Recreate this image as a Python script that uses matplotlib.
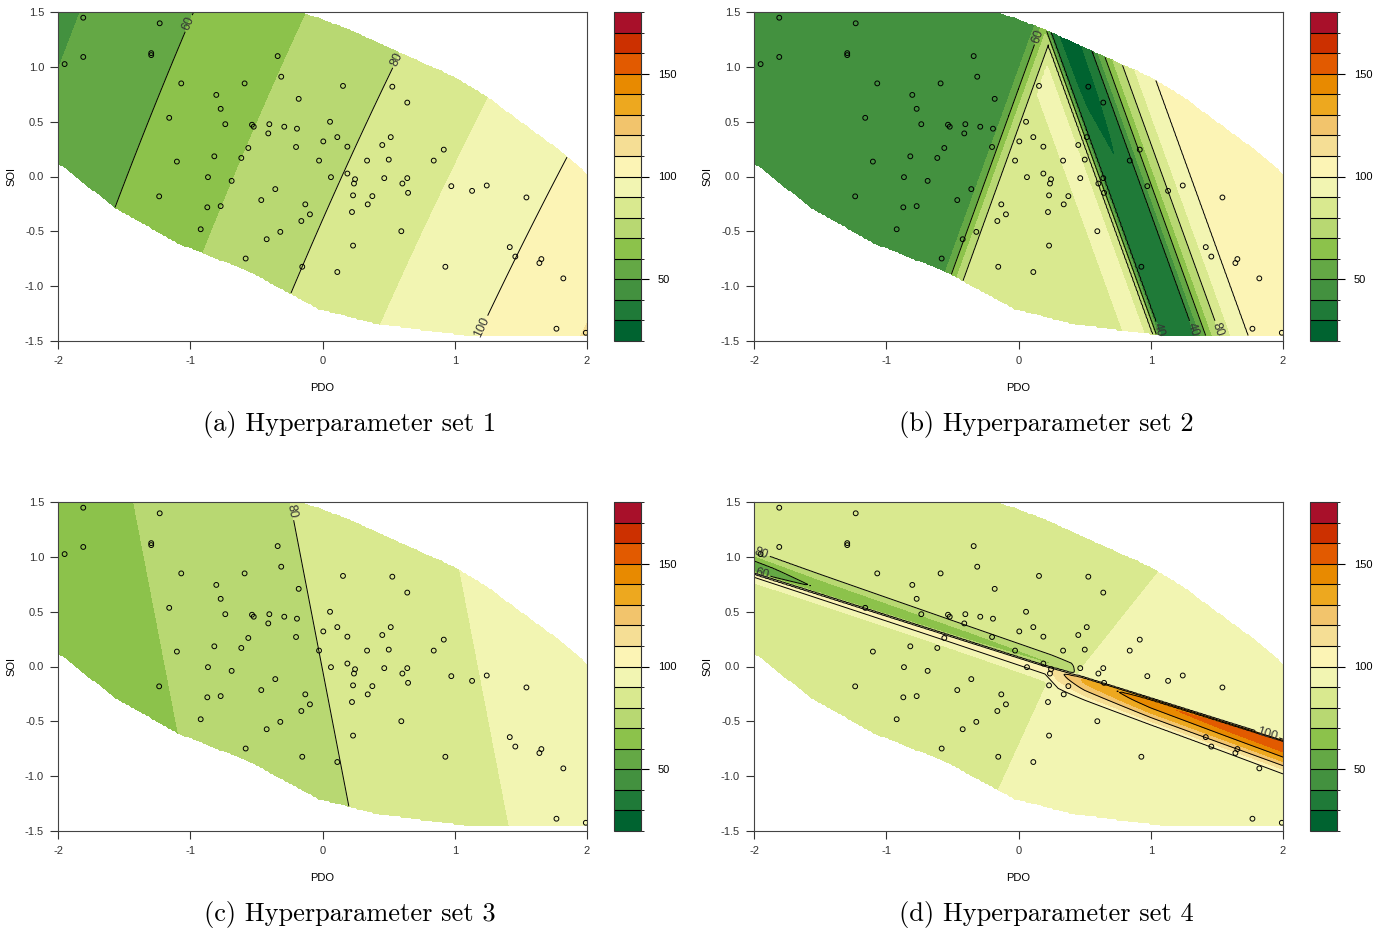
import numpy as np
import matplotlib
matplotlib.use('Agg')
import matplotlib.pyplot as plt
from matplotlib.colors import ListedColormap, BoundaryNorm
from matplotlib.path import Path
from matplotlib.cm import ScalarMappable

plt.rcParams['font.family'] = ['Liberation Sans', 'DejaVu Sans']
plt.rcParams['axes.unicode_minus'] = False

#~~~~~~~~~~~~~~~~~~~~~~~~~~~~~~~ data ~~~~~~~~~~~~~~~~~~~~~~~~~~~~~~~
# observed (PDO, SOI) pairs
pdo = [-1.809, -1.231, -1.809, -1.950, -1.295, -1.295, -0.339, -0.312, -1.068, -0.589,
       -0.803, -0.180, -0.770, -1.159, -0.735, -0.533, -0.520, -0.402, -0.289, -0.193,
       -0.410, 0.006, -0.561, -0.200, -0.818, -0.614, -1.101, -0.026, -0.866, -0.687,
       0.155, 0.528, 0.641, 0.057, 0.112, 0.188, 0.516, 0.452, 0.917, 0.501,
       0.337, 0.841, 0.064, 0.188, 0.246, 0.238, 0.467, 0.641, 0.604, 0.647,
       0.231, 0.377, 0.342, 0.223, 0.596, 0.231, 0.112, 0.974, 1.131, 1.242,
       1.542, 1.416, 1.458, 1.655, 1.640, 0.929, 1.821, 1.769, 1.991, -1.235,
       -0.871, -0.770, -0.921, -0.463, -0.357, -0.130, -0.095, -0.160, -0.319, -0.422,
       -0.581, -0.153]
soi = [1.448, 1.397, 1.090, 1.025, 1.125, 1.107, 1.098, 0.910, 0.849, 0.849,
       0.744, 0.708, 0.617, 0.535, 0.477, 0.472, 0.454, 0.477, 0.454, 0.436,
       0.393, 0.320, 0.260, 0.269, 0.184, 0.169, 0.136, 0.145, -0.006, -0.040,
       0.826, 0.819, 0.674, 0.499, 0.359, 0.272, 0.359, 0.287, 0.245, 0.154,
       0.145, 0.145, -0.006, 0.027, -0.025, -0.064, -0.015, -0.015, -0.064, -0.149,
       -0.172, -0.179, -0.254, -0.324, -0.499, -0.630, -0.871, -0.088, -0.131, -0.082,
       -0.191, -0.644, -0.730, -0.753, -0.789, -0.823, -0.929, -1.388, -1.425, -0.181,
       -0.281, -0.270, -0.481, -0.215, -0.115, -0.254, -0.345, -0.406, -0.505, -0.572,
       -0.748, -0.823]

# outline of the area where predictions are shown
hull_pdo = [-2.01, -1.564, -1.1, -0.556, -0.026, 0.427, 1.108, 2.01, 2.01, 1.827,
            1.486, 1.234, 0.982, 0.528, 0.225, -0.026, -0.2, -2.01]
hull_soi = [0.133, -0.29, -0.608, -0.867, -1.213, -1.35, -1.456, -1.462, 0.012, 0.209,
            0.511, 0.738, 0.919, 1.162, 1.328, 1.448, 1.51, 1.51]

# colour classes from 20 to 180 in steps of 10 (low -> high)
levels = np.arange(20, 181, 10)
line_levels = np.arange(20, 181, 20)
class_colors = ['#006330', '#1f7a38', '#43913f', '#64a845', '#8cc24b', '#b8d872',
                '#d9e98f', '#f2f5b2', '#fcf4b5', '#f5de95', '#f2c46c', '#eda81f',
                '#e88a00', '#e25a00', '#cc3000', '#a8102a']

# set 1 and set 3: plane with a small twist  f = c0 + cx*x + cy*y + cxy*x*y
plane_1 = [78.2, 12.3, -4.55, -0.42]
plane_3 = [80.04, 8.45, 1.352, 0.0]

# set 2: two crossing ramps, u_left = x - 0.3y, u_right = x + 0.3y
slope_2 = 0.3
left_knots = [-0.34, -0.29, -0.24, -0.19, -0.135, -0.09, -0.06]
left_vals = [45, 50, 60, 70, 80, 86, 200]
right_knots = [-1.0, 0.30, 0.40, 0.50, 0.56, 0.585, 0.61, 0.64, 0.70, 0.78,
               0.86, 0.90, 0.94, 0.98, 1.03, 1.09, 1.17, 1.30, 1.45]
right_vals = [85, 86, 92, 92, 86, 80, 60, 40, 35, 32,
              35, 40, 50, 60, 70, 80, 90, 100, 106]
# the valley gets deeper towards the top
valley_knots = [0.64, 0.70, 0.80, 0.88]
valley_shape = [0, 1, 1, 0]
valley_soi = [-1.5, 0.0, 0.8, 1.5]
valley_extra = [0, 1, 6, 8]

# set 4: sloping background split by a narrow ridge along soi = 0.08 - 0.385*pdo
ridge_line = [0.08, -0.385]
base_above = [90, 2.5, -0.66, -0.49]   # f = b0 + k*(x + a*y + c)
base_below = [90, 2.5, -0.38, -0.276]
dip_v = [-0.01, 0.01, 0.05, 0.10, 0.15, 0.19, 0.22]
dip_shape = [0, 0.8, 1.0, 0.85, 0.45, 0.1, 0]
dip_x = [-2.0, -1.5, -0.5, 0.25, 0.40, 0.46]
dip_depth = [28, 23, 21, 20, 16, 0]
dip_wx = [-2.0, 0.4]
dip_width = [1.05, 0.8]
peak_v = [-0.32, -0.27, -0.20, -0.12, -0.06, -0.02, 0.005, 0.02, 0.035]
peak_shape = [0, 0.12, 0.45, 0.75, 0.93, 1.0, 0.85, 0.15, 0]
peak_x = [-2.0, -0.5, 0.2, 0.3, 0.5, 1.0, 2.0]
peak_height = [20, 18, 18, 27, 42, 56, 65]
width_x = [-2.0, 0.2, 0.3, 2.0]
width_scale = [0.38, 0.42, 0.75, 1.0]

# contour label spots
labels_1 = [(-1.055, 1.418), (0.548, 1.073), (1.184, -1.358)]
labels_2 = [(0.163, 1.272), (1.071, -1.395), (1.313, -1.395), (1.502, -1.395)]
labels_3 = [(-0.253, 1.409)]
labels_4 = [(-1.94, 1.045), (-1.94, 0.847), (1.88, -0.62)]

captions = ['(a) Hyperparameter set 1', '(b) Hyperparameter set 2',
            '(c) Hyperparameter set 3', '(d) Hyperparameter set 4']


#~~~~~~~~~~~~~~~~~~~~~~~~~~~~~~~ fields ~~~~~~~~~~~~~~~~~~~~~~~~~~~~~~~
gx = np.linspace(-2, 2, 321)
gy = np.linspace(-1.5, 1.5, 241)
X, Y = np.meshgrid(gx, gy)
hull = Path(np.column_stack([hull_pdo, hull_soi]))
inside = hull.contains_points(np.column_stack([X.ravel(), Y.ravel()])).reshape(X.shape)


def plane_field(p):
    return p[0] + p[1] * X + p[2] * Y + p[3] * X * Y


def ramps_field():
    u_left = X - slope_2 * Y
    u_right = X + slope_2 * Y
    right = np.interp(u_right, right_knots, right_vals)
    right = right - np.interp(Y, valley_soi, valley_extra) * np.interp(u_right, valley_knots, valley_shape)
    return np.minimum(np.interp(u_left, left_knots, left_vals), right)


def ridge_field():
    v = Y - (ridge_line[0] + ridge_line[1] * X)
    above = base_above[0] + base_above[1] * (X + base_above[2] * Y + base_above[3])
    below = base_below[0] + base_below[1] * (X + base_below[2] * Y + base_below[3])
    f = np.where(v > 0, above, below)
    wd = np.interp(X, dip_wx, dip_width)
    f = f - np.interp(X, dip_x, dip_depth) * np.interp(v / wd, dip_v, dip_shape, left=0, right=0)
    w = np.interp(X, width_x, width_scale)
    f = f + np.interp(X, peak_x, peak_height) * np.interp(v / w, peak_v, peak_shape, left=0, right=0)
    return f


fields = [plane_field(plane_1), ramps_field(), plane_field(plane_3), ridge_field()]
label_spots = [labels_1, labels_2, labels_3, labels_4]

#~~~~~~~~~~~~~~~~~~~~~~~~~~~~~~~ figure ~~~~~~~~~~~~~~~~~~~~~~~~~~~~~~~
W, H = 1388, 934
fig = plt.figure(figsize=(W / 100, H / 100), dpi=100)


def box(x0, y0, x1, y1):
    return [x0 / W, 1 - y1 / H, (x1 - x0) / W, (y1 - y0) / H]


cmap = ListedColormap(class_colors)
cmap.set_under(class_colors[0])
cmap.set_over(class_colors[-1])
norm = BoundaryNorm(levels, cmap.N)

origins = [(0, 0), (696, 0), (0, 490), (696, 490)]
for i, (dx, dy) in enumerate(origins):
    ax = fig.add_axes(box(58 + dx, 12 + dy, 587 + dx, 341 + dy))
    cax = fig.add_axes(box(614 + dx, 12 + dy, 641 + dx, 341 + dy))

    z = np.ma.masked_where(~inside, np.clip(fields[i], 20.5, 179.5))
    ax.contourf(X, Y, z, levels=levels, cmap=cmap, norm=norm)
    cs = ax.contour(X, Y, z, levels=line_levels, colors='black', linewidths=0.7)
    ax.clabel(cs, fmt='%d', fontsize=9, manual=label_spots[i], inline=True,
              inline_spacing=2, colors='#333333')
    ax.scatter(pdo, soi, s=12, facecolors='none', edgecolors='black', linewidths=0.7, zorder=5)

    ax.set_xlim(-2, 2)
    ax.set_ylim(-1.5, 1.5)
    ax.set_xticks([-2, -1, 0, 1, 2])
    ax.set_xticklabels(['-2', '-1', '0', '1', '2'])
    ax.set_yticks([-1.5, -1.0, -0.5, 0.0, 0.5, 1.0, 1.5])
    ax.set_yticklabels(['-1.5', '-1.0', '-0.5', '0.0', '0.5', '1.0', '1.5'])
    ax.tick_params(direction='out', length=6, width=0.8, labelsize=8, pad=5, colors='#333333')
    ax.tick_params(axis='y', pad=4)
    for s in ax.spines.values():
        s.set_linewidth(0.8)
        s.set_color('#444444')
    ax.set_xlabel('PDO', fontsize=8, labelpad=12)
    ax.set_ylabel('SOI', fontsize=8, labelpad=6)

    cb = fig.colorbar(ScalarMappable(norm=norm, cmap=cmap), cax=cax,
                      ticks=[50, 100, 150], drawedges=True)
    cb.dividers.set_color('black')
    cb.dividers.set_linewidth(0.8)
    cb.outline.set_edgecolor('#333333')
    cb.outline.set_linewidth(0.8)
    cax.tick_params(direction='out', length=6, width=0.8, labelsize=8, pad=6)

    fig.text((350 + dx) / W, 1 - (424 + dy) / H, captions[i], family='cmr10',
             fontsize=19, ha='center', va='center')

fig.savefig('out.png', dpi=100)
